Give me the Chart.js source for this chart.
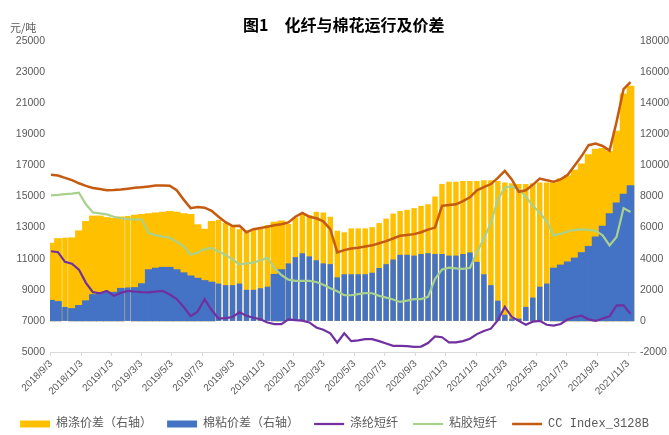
<!DOCTYPE html>
<html>
<head>
<meta charset="utf-8">
<title>化纤与棉花运行及价差</title>
<script src="https://cdn.jsdelivr.net/npm/chart.js@4"></script>
<style>
    body { margin: 0; background: #ffffff; }
    #wrap { position: relative; width: 669px; height: 435px; overflow: hidden; }
    #judul { position: absolute; left: 243px; top: 14px; font: bold 16px "Noto Sans CJK SC", sans-serif; color: #000; white-space: nowrap; line-height: 20px; }
    #satuan { position: absolute; left: 10px; top: 20px; font: 11px "Noto Sans CJK SC", sans-serif; color: #595959; line-height: 14px; }
    canvas { position: absolute; left: 0; top: 0; }
</style>
</head>
<body>
<div id="wrap">
    <canvas id="chart-jiacha" width="669" height="435"></canvas>
    <div id="judul">图1　化纤与棉花运行及价差</div>
    <div id="satuan">元/吨</div>
</div>

<script>
// =========================================
// 1. DATA (every 14 days from 2018/9/3)
// =========================================

const xLabels = ['2018/9/3', '2018/11/3', '2019/1/3', '2019/3/3', '2019/5/3', '2019/7/3', '2019/9/3',
    '2019/11/3', '2020/1/3', '2020/3/3', '2020/5/3', '2020/7/3', '2020/9/3', '2020/11/3', '2021/1/3',
    '2021/3/3', '2021/5/3', '2021/7/3', '2021/9/3', '2021/11/3'];

// CC Index_3128B (left axis)
const ccIndex = [
    16400, 16350, 16200, 16050, 15850, 15680, 15550, 15480, 15400, 15420,
    15450, 15500, 15560, 15600, 15650, 15700, 15700, 15690, 15400, 14800,
    14250, 14320, 14280, 14080, 13700, 13350, 13100, 13120, 12700, 12900,
    12980, 13060, 13150, 13220, 13330, 13700, 13950, 13700, 13600, 13400,
    12900, 11400, 11550, 11650, 11700, 11780, 11860, 11990, 12130, 12300,
    12470, 12520, 12580, 12700, 12870, 13000, 14400, 14450, 14500, 14700,
    14950, 15400, 15600, 15800, 16200, 16650, 16100, 15300, 15400, 15750,
    16150, 16050, 15950, 16100, 16400, 17000, 17600, 18300, 18400, 18250,
    17950, 19800, 21900, 22350
];

// 涤纶短纤 (left axis)
const dilun = [
    11480, 11420, 10800, 10680, 10300, 9450, 8850, 8780, 8930, 8620,
    8800, 8930, 8880, 8850, 8830, 8880, 8930, 8700, 8400, 7900,
    7300, 7600, 8400, 7700, 7150, 7180, 7250, 7550, 7330, 7200,
    7110, 6900, 6790, 6790, 7100, 7050, 7020, 6900, 6580, 6430,
    6200, 5600, 6200, 5700, 5750, 5830, 5830, 5700, 5550, 5400,
    5400, 5380, 5330, 5350, 5580, 6000, 5950, 5620, 5620, 5700,
    5850, 6150, 6350, 6500, 7050, 7900, 7250, 7000, 6750, 6950,
    7000, 6750, 6700, 6800, 7100, 7250, 7330, 7100, 7000, 7150,
    7300, 8000, 8000, 7450
];

// 粘胶短纤 (left axis)
const zhanjiao = [
    15070, 15100, 15150, 15180, 15240, 14500, 13980, 13920, 13850, 13700,
    13600, 13550, 13530, 13520, 12650, 12520, 12420, 12350, 12100, 11800,
    11250, 11400, 11620, 11700, 11450, 11250, 10950, 10640, 10700, 10750,
    10900, 11050, 10400, 9950, 9650, 9580, 9570, 9570, 9500, 9320,
    9100, 8900, 8650, 8650, 8720, 8790, 8780, 8610, 8500, 8380,
    8220, 8300, 8400, 8400, 8550, 9700, 10300, 10420, 10380, 10350,
    10400, 11400, 12300, 13300, 14800, 15600, 15650, 15450, 15000, 14400,
    13950, 13400, 12500, 12600, 12750, 12850, 12880, 12850, 12800, 12500,
    11850, 12400, 14250, 14000
];

// 棉涤价差 (right axis)
const selisihDilun = [
    5000, 5300, 5350, 5350, 5800, 6400, 6750, 6750, 6650, 6600,
    6700, 6750, 6800, 6850, 6900, 6950, 7000, 7050, 7000, 6900,
    6850, 6200, 5900, 6400, 6500, 6300, 6100, 5900, 5800, 5900,
    6000, 6160, 6360, 6430, 6230, 6650, 6930, 6800, 7020, 6970,
    6700, 5800, 5700, 5950, 5950, 5950, 6030, 6290, 6580, 6900,
    7070, 7140, 7250, 7400, 7500, 8000, 8800, 8950, 8950, 9000,
    9000, 9000, 9050, 9050, 9000, 8900, 8850, 8800, 8800, 8850,
    8900, 8900, 8900, 9150, 9350, 9700, 10100, 10700, 11050, 11100,
    10900, 12200, 14600, 15100
];

// 棉粘价差 (right axis)
const selisihZhanjiao = [
    1330, 1250, 900, 800, 1000, 1300, 1700, 1800, 1850, 1850,
    2100, 2150, 2150, 2400, 3300, 3400, 3450, 3450, 3300, 3100,
    2900, 2750, 2600, 2500, 2400, 2300, 2300, 2400, 2000, 2000,
    2100, 2200, 3000, 3300, 3700, 4100, 4350, 4150, 3900, 3700,
    3650, 2800, 3000, 3000, 3000, 3000, 3100, 3400, 3650, 3950,
    4250, 4250, 4200, 4300, 4350, 4300, 4300, 4200, 4200, 4300,
    4400, 3800, 3000, 2300, 1300, 400, 150, 150, 900, 1500,
    2200, 2400, 3400, 3600, 3800, 4050, 4400, 4800, 5400, 6100,
    6900, 7600, 8150, 8700
];

// =========================================
// 2. HELPERS
// =========================================

const LANGKAH = 14; // days between samples

function hariKe(str) {
    const p = str.split('/');
    return Math.round((Date.UTC(+p[0], +p[1] - 1, +p[2]) - Date.UTC(2018, 8, 3)) / 86400000);
}

const hariLabel = xLabels.map(hariKe);

// samples drawn as thin (striped) bars in the picture
function isTipis(i) {
    return (i >= 24 && i <= 71 && i !== 32 && i !== 33) || i === 2 || i === 11;
}

function titik(arr) {
    return arr.map(function(v, i) { return { x: i * LANGKAH, y: v }; });
}

function titikBar(arr, tipis) {
    return titik(arr).filter(function(p, i) { return isTipis(i) === tipis; });
}

function garis(label, arr, warna, urut, tebal) {
    return {
        type: 'line', label: label, data: titik(arr), yAxisID: 'y',
        borderColor: warna, backgroundColor: warna, borderWidth: tebal,
        pointRadius: 0, tension: 0, order: urut, pointStyle: 'line'
    };
}

function batang(label, arr, warna, tipis, urut) {
    return {
        type: 'bar', label: label, data: titikBar(arr, tipis), yAxisID: 'y1',
        backgroundColor: warna, borderWidth: 0, grouped: false,
        barPercentage: tipis ? 0.78 : 1, categoryPercentage: 1,
        order: urut, pointStyle: 'rect', hideInLegend: tipis
    };
}

function angka(value) { return String(value); }

const KUNING = '#FFC000', BIRU = '#4472C4', UNGU = '#7030A0', HIJAU = '#A9D18E', COKLAT = '#C55A11';
const abu = '#595959';

// push the legend a little lower, like the original
const geserLegend = {
    id: 'geserLegend',
    afterLayout: function(chart) {
        if (chart.legend) { chart.legend.top += 5; chart.legend.bottom += 5; }
    }
};

// =========================================
// 3. CHART
// =========================================

const ctx = document.getElementById('chart-jiacha');

new Chart(ctx.getContext('2d'), {
    type: 'bar',
    data: {
        datasets: [
            batang('棉涤价差（右轴）', selisihDilun, KUNING, false, 5),
            batang('棉粘价差（右轴）', selisihZhanjiao, BIRU, false, 3),
            garis('涤纶短纤', dilun, UNGU, 1, 2.2),
            garis('粘胶短纤', zhanjiao, HIJAU, 2, 2.2),
            garis('CC Index_3128B', ccIndex, COKLAT, 0, 2.5),
            batang('棉涤价差（右轴）', selisihDilun, KUNING, true, 5),
            batang('棉粘价差（右轴）', selisihZhanjiao, BIRU, true, 3)
        ]
    },
    plugins: [geserLegend],
    options: {
        responsive: false,
        animation: false,
        layout: { padding: { top: 41, left: 0, right: 0, bottom: 0 } },
        plugins: {
            title: { display: false },
            tooltip: { enabled: false },
            legend: {
                position: 'bottom',
                labels: {
                    usePointStyle: true,
                    pointStyleWidth: 30,
                    boxHeight: 7,
                    padding: 15,
                    color: abu,
                    font: { size: 12, family: "'Liberation Mono', 'Noto Sans CJK SC'" },
                    filter: function(item, data) { return !data.datasets[item.datasetIndex].hideInLegend; },
                    sort: function(a, b) { return a.datasetIndex - b.datasetIndex; }
                }
            }
        },
        scales: {
            x: {
                type: 'linear',
                offset: false,
                min: -2,
                max: 1171,
                afterBuildTicks: function(scale) {
                    scale.ticks = hariLabel.map(function(v) { return { value: v }; });
                },
                afterFit: function(scale) { scale.height = 46; },
                ticks: {
                    autoSkip: false,
                    maxRotation: 45,
                    minRotation: 45,
                    padding: 2,
                    color: abu,
                    font: { size: 10, family: "'Liberation Sans'" },
                    callback: function(value, index) { return xLabels[index]; }
                },
                grid: { drawOnChartArea: false, drawTicks: true, tickLength: 4, color: '#d9d9d9', offset: false },
                border: { color: '#d9d9d9' }
            },
            y: {
                position: 'left',
                min: 5000,
                max: 25000,
                afterFit: function(scale) { scale.width = 50; },
                ticks: { stepSize: 2000, padding: 5, color: abu, font: { size: 10.5, family: "'Liberation Sans'" }, callback: angka },
                grid: { display: false, drawTicks: false },
                border: { display: false }
            },
            y1: {
                position: 'right',
                min: -2000,
                max: 18000,
                afterFit: function(scale) { scale.width = 34; },
                ticks: { stepSize: 2000, padding: 5, color: abu, font: { size: 10.5, family: "'Liberation Sans'" }, callback: angka },
                grid: { display: false, drawTicks: false },
                border: { display: false }
            }
        }
    }
});
</script>
</body>
</html>
